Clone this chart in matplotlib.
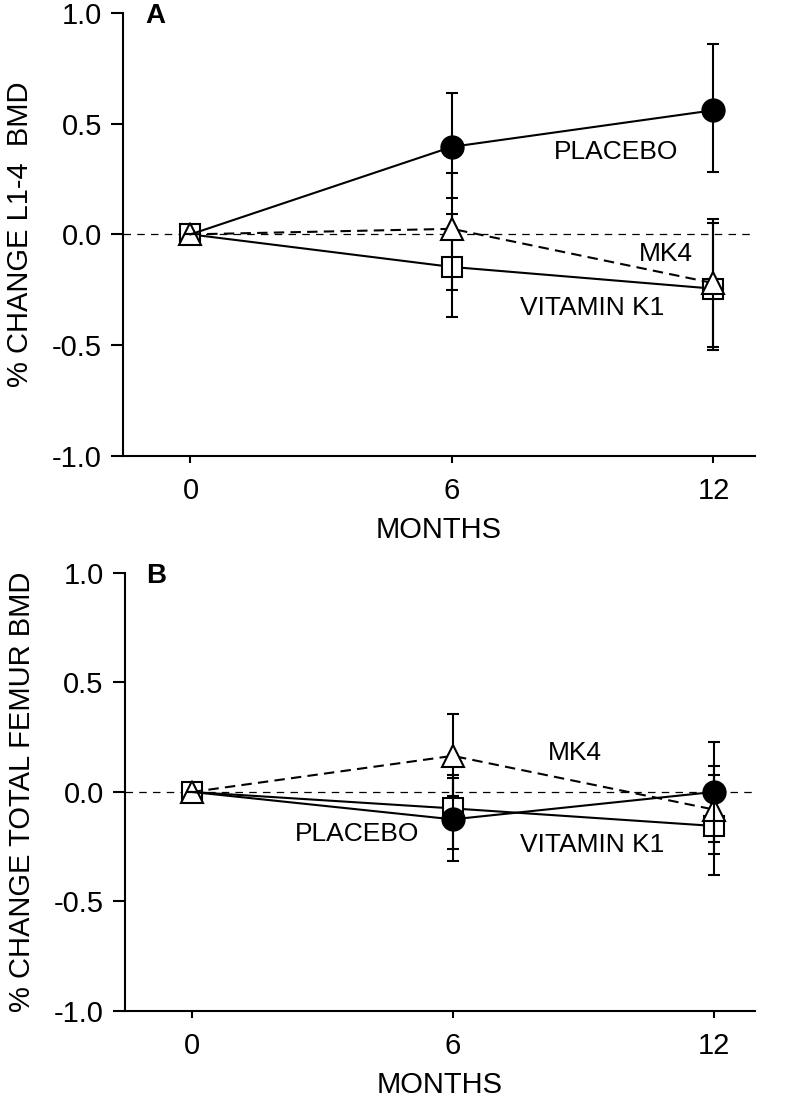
import numpy as np
import matplotlib
matplotlib.use('Agg')
import matplotlib.pyplot as plt

plt.rcParams['font.family'] = ['Liberation Sans', 'DejaVu Sans']
plt.rcParams['axes.unicode_minus'] = False

months = [0, 6, 12]
yticks = [-1.0, -0.5, 0.0, 0.5, 1.0]

# panel A - L1-4 BMD
a_placebo = [0.0, 0.395, 0.56]
a_placebo_lo = [0.0, 0.165, 0.28]
a_placebo_hi = [0.0, 0.64, 0.86]
a_mk4 = [0.0, 0.025, -0.22]
a_mk4_lo = [0.0, -0.25, -0.51]
a_mk4_hi = [0.0, 0.275, 0.07]
a_k1 = [0.0, -0.147, -0.245]
a_k1_lo = [0.0, -0.375, -0.52]
a_k1_hi = [0.0, 0.09, 0.05]

# panel B - total femur BMD
b_placebo = [0.0, -0.125, 0.0]
b_placebo_lo = [0.0, -0.315, -0.23]
b_placebo_hi = [0.0, 0.077, 0.23]
b_mk4 = [0.0, 0.165, -0.08]
b_mk4_lo = [0.0, -0.02, -0.285]
b_mk4_hi = [0.0, 0.355, 0.12]
b_k1 = [0.0, -0.075, -0.155]
b_k1_lo = [0.0, -0.26, -0.38]
b_k1_hi = [0.0, 0.065, 0.077]


def series(ax, y, lo, hi, marker, fc, ls, ms, z, every=None):
    y = np.array(y)
    err = [y - np.array(lo), np.array(hi) - y]
    ax.errorbar(months, y, yerr=err, fmt='none', ecolor='black', elinewidth=1.5,
                capsize=4.5, capthick=1.5, zorder=z)
    ax.plot(months, y, color='black', lw=1.5, linestyle=ls, zorder=z,
            dashes=(5, 3) if ls == '--' else (None, None))
    ax.plot(months, y, linestyle='none', marker=marker, ms=ms, mfc=fc, mec='black',
            mew=1.5, zorder=z + 0.5, markevery=every)


def panel(ax, letter, ylabel, pl, mk, k1):
    ax.axhline(0, color='black', lw=0.9, dashes=(6, 5), zorder=1)
    # placebo marker at baseline sits under the others, not visible
    series(ax, pl[0], pl[1], pl[2], 'o', 'black', '-', 16, 5, every=[1, 2])
    series(ax, k1[0], k1[1], k1[2], 's', 'white', '-', 15, 3)
    series(ax, mk[0], mk[1], mk[2], '^', 'white', '--', 16, 4)
    ax.set_xlim(-1.55, 12.95)
    ax.set_ylim(-1.0, 1.0)
    ax.set_xticks(months)
    ax.set_yticks(yticks)
    ax.set_yticklabels(['%.1f' % v for v in yticks])
    ax.spines['top'].set_visible(False)
    ax.spines['right'].set_visible(False)
    ax.spines['left'].set_linewidth(1.5)
    ax.spines['bottom'].set_linewidth(1.5)
    ax.tick_params(axis='y', direction='out', length=9, width=1.5, labelsize=21, pad=6)
    ax.tick_params(axis='x', direction='out', length=5, width=1.5, labelsize=21, pad=10)
    ax.set_xlabel('MONTHS', fontsize=21, labelpad=8)
    ax.set_ylabel(ylabel, fontsize=21, labelpad=13)
    ax.text(0.035, 0.977, letter, transform=ax.transAxes, fontsize=20,
            fontweight='bold', va='baseline', ha='left')


fig = plt.figure(figsize=(7.88, 10.97), dpi=100)
axA = fig.add_axes([0.156, 0.5843, 0.802, 0.4041])
axB = fig.add_axes([0.158, 0.0784, 0.800, 0.3993])

panel(axA, 'A', '% CHANGE L1-4  BMD',
      (a_placebo, a_placebo_lo, a_placebo_hi),
      (a_mk4, a_mk4_lo, a_mk4_hi),
      (a_k1, a_k1_lo, a_k1_hi))
axA.text(9.77, 0.37, 'PLACEBO', fontsize=19, ha='center', va='center')
axA.text(10.9, -0.09, 'MK4', fontsize=19, ha='center', va='center')
axA.text(9.22, -0.33, 'VITAMIN K1', fontsize=19, ha='center', va='center')

panel(axB, 'B', '% CHANGE TOTAL FEMUR BMD',
      (b_placebo, b_placebo_lo, b_placebo_hi),
      (b_mk4, b_mk4_lo, b_mk4_hi),
      (b_k1, b_k1_lo, b_k1_hi))
axB.text(8.8, 0.18, 'MK4', fontsize=19, ha='center', va='center')
axB.text(3.8, -0.19, 'PLACEBO', fontsize=19, ha='center', va='center')
axB.text(9.2, -0.24, 'VITAMIN K1', fontsize=19, ha='center', va='center')

fig.savefig('out.png', dpi=100)
